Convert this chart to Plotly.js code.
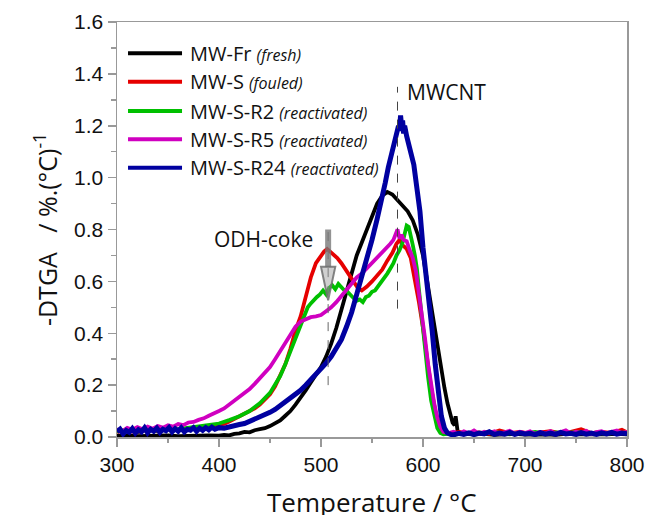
<!DOCTYPE html>
<html>
<head>
<meta charset="utf-8">
<script src="https://cdn.plot.ly/plotly-3.0.1.min.js"></script>
<style>html,body{margin:0;padding:0;background:#fff;}#chart{width:648px;height:515px;}</style>
</head>
<body>
<div id="chart"></div>
<script>
// ---- data (temperature °C, -DTGA %/°C) ----
const seriesNames = ["MW-Fr", "MW-S", "MW-S-R2", "MW-S-R5", "MW-S-R24"];
const seriesNotes = ["(fresh)", "(fouled)", "(reactivated)", "(reactivated)", "(reactivated)"];

const mwFr = [[300,0.004],[310,0.006],[320,0.003],[330,0.005],[340,0.004],[350,0.006],[360,0.003],[370,0.005],[380,0.004],[390,0.006],[400,0.005],[405,0.008],[410,0.006],[415,0.012],[420,0.014],[425,0.02],[430,0.018],[435,0.026],[440,0.03],[445,0.034],[450,0.042],[455,0.052],[460,0.064],[465,0.082],[470,0.1],[475,0.125],[480,0.15],[485,0.18],[490,0.21],[495,0.24],[500,0.27],[505,0.31],[510,0.36],[515,0.42],[520,0.49],[525,0.57],[530,0.64],[535,0.7],[540,0.75],[545,0.8],[550,0.86],[555,0.9],[560,0.93],[565,0.945],[570,0.935],[575,0.915],[580,0.895],[585,0.87],[590,0.835],[595,0.78],[600,0.7],[603,0.625],[606,0.56],[609,0.495],[612,0.415],[615,0.34],[618,0.26],[621,0.19],[624,0.13],[627,0.08],[629,0.055],[631,0.045],[632,0.08],[634,0.02],[640,0.012],[650,0.01],[660,0.012],[670,0.008],[680,0.01],[690,0.012],[700,0.009],[710,0.011],[720,0.01],[730,0.008],[740,0.012],[750,0.01],[760,0.009],[770,0.011],[780,0.01],[790,0.012],[800,0.01]];

const mwS = [[300,0.02],[310,0.025],[320,0.018],[330,0.028],[340,0.022],[350,0.03],[360,0.026],[370,0.034],[380,0.036],[390,0.042],[400,0.048],[405,0.05],[410,0.06],[415,0.07],[420,0.08],[425,0.09],[430,0.1],[435,0.11],[440,0.125],[445,0.145],[450,0.165],[455,0.195],[460,0.235],[465,0.28],[470,0.34],[475,0.41],[480,0.465],[485,0.54],[490,0.615],[495,0.67],[500,0.7],[503,0.715],[506,0.725],[509,0.715],[512,0.705],[516,0.69],[520,0.67],[524,0.645],[528,0.62],[532,0.6],[536,0.575],[540,0.565],[545,0.58],[550,0.6],[555,0.62],[560,0.645],[565,0.68],[570,0.71],[574,0.745],[577,0.76],[580,0.74],[584,0.725],[588,0.69],[592,0.61],[596,0.52],[600,0.42],[604,0.3],[608,0.19],[612,0.1],[616,0.045],[620,0.02],[625,0.012],[635,0.02],[645,0.014],[655,0.018],[665,0.012],[675,0.025],[685,0.015],[695,0.02],[705,0.013],[715,0.018],[725,0.022],[735,0.014],[745,0.02],[755,0.03],[765,0.015],[775,0.02],[785,0.016],[795,0.028],[800,0.018]];

const mwSR2 = [[300,0.022],[310,0.028],[320,0.02],[330,0.03],[340,0.024],[350,0.032],[360,0.03],[370,0.036],[380,0.04],[390,0.046],[400,0.052],[410,0.065],[420,0.08],[430,0.1],[440,0.13],[450,0.17],[455,0.2],[460,0.235],[465,0.28],[470,0.33],[475,0.38],[480,0.44],[484,0.48],[487,0.5],[490,0.515],[493,0.53],[496,0.54],[499,0.55],[502,0.565],[505,0.55],[508,0.575],[511,0.585],[514,0.57],[517,0.59],[520,0.575],[523,0.565],[526,0.56],[529,0.545],[532,0.535],[535,0.525],[538,0.53],[541,0.52],[544,0.54],[547,0.545],[550,0.56],[553,0.565],[556,0.58],[559,0.6],[562,0.61],[565,0.63],[568,0.65],[571,0.67],[574,0.7],[577,0.72],[580,0.75],[582,0.79],[584,0.815],[586,0.81],[588,0.78],[590,0.74],[592,0.7],[594,0.65],[596,0.57],[598,0.49],[600,0.4],[602,0.33],[605,0.23],[608,0.14],[611,0.08],[614,0.035],[617,0.015],[620,0.01],[630,0.015],[640,0.012],[650,0.018],[660,0.013],[670,0.02],[680,0.012],[690,0.016],[700,0.014],[710,0.02],[720,0.012],[730,0.018],[740,0.014],[750,0.02],[760,0.013],[770,0.017],[780,0.012],[790,0.018],[800,0.014]];

const mwSR5 = [[300,0.03],[305,0.022],[310,0.035],[315,0.028],[320,0.038],[325,0.03],[330,0.04],[335,0.032],[340,0.042],[345,0.036],[350,0.045],[355,0.04],[360,0.05],[365,0.046],[370,0.056],[375,0.058],[380,0.066],[385,0.072],[390,0.082],[395,0.09],[400,0.1],[405,0.11],[410,0.125],[415,0.14],[420,0.155],[425,0.17],[430,0.185],[435,0.205],[440,0.225],[445,0.245],[450,0.27],[455,0.3],[460,0.33],[465,0.36],[470,0.39],[475,0.425],[480,0.445],[485,0.455],[490,0.462],[495,0.465],[500,0.47],[505,0.485],[510,0.5],[515,0.52],[520,0.545],[525,0.565],[530,0.59],[535,0.615],[540,0.63],[545,0.65],[550,0.67],[555,0.69],[560,0.71],[565,0.73],[568,0.745],[571,0.76],[573,0.785],[575,0.8],[577,0.765],[579,0.78],[581,0.76],[584,0.755],[587,0.72],[590,0.69],[593,0.64],[596,0.56],[599,0.47],[602,0.38],[605,0.28],[608,0.2],[611,0.13],[614,0.075],[617,0.04],[620,0.02],[625,0.015],[630,0.02],[635,0.012],[640,0.022],[645,0.014],[650,0.025],[655,0.012],[660,0.02],[665,0.015],[670,0.022],[675,0.012],[680,0.018],[685,0.024],[690,0.013],[695,0.02],[700,0.015],[705,0.022],[710,0.012],[715,0.019],[720,0.014],[725,0.023],[730,0.012],[735,0.018],[740,0.026],[745,0.013],[750,0.02],[755,0.015],[760,0.024],[765,0.012],[770,0.019],[775,0.022],[780,0.014],[785,0.02],[790,0.025],[795,0.015],[800,0.02]];

const mwSR24 = [[300,0.02],[303,0.03],[306,0.012],[309,0.025],[312,0.018],[315,0.032],[318,0.015],[321,0.028],[324,0.02],[327,0.035],[330,0.016],[333,0.03],[336,0.022],[339,0.034],[342,0.018],[345,0.03],[348,0.024],[351,0.036],[354,0.02],[357,0.032],[360,0.022],[363,0.035],[366,0.02],[369,0.03],[372,0.026],[375,0.036],[378,0.022],[381,0.034],[384,0.026],[387,0.036],[390,0.028],[393,0.038],[396,0.03],[400,0.036],[405,0.034],[410,0.04],[415,0.042],[420,0.048],[425,0.052],[430,0.06],[435,0.066],[440,0.075],[445,0.084],[450,0.095],[455,0.106],[460,0.12],[465,0.134],[470,0.15],[475,0.165],[480,0.18],[485,0.2],[490,0.22],[495,0.24],[500,0.262],[505,0.285],[510,0.31],[515,0.34],[520,0.375],[525,0.425],[530,0.48],[535,0.55],[540,0.615],[545,0.685],[550,0.76],[555,0.84],[560,0.92],[563,0.98],[566,1.04],[569,1.09],[572,1.13],[574,1.17],[576,1.2],[577,1.18],[578,1.24],[579,1.2],[580,1.22],[581,1.17],[582,1.2],[584,1.16],[586,1.13],[588,1.1],[591,1.05],[594,0.96],[597,0.87],[600,0.73],[603,0.63],[606,0.53],[609,0.41],[612,0.28],[615,0.165],[618,0.08],[621,0.035],[624,0.015],[627,0.01],[630,0.008],[635,0.014],[640,0.01],[645,0.016],[650,0.009],[655,0.015],[660,0.012],[665,0.02],[670,0.01],[675,0.015],[680,0.011],[685,0.018],[690,0.01],[695,0.016],[700,0.012],[705,0.014],[710,0.009],[715,0.017],[720,0.011],[725,0.015],[730,0.01],[735,0.018],[740,0.012],[745,0.014],[750,0.01],[755,0.017],[760,0.011],[765,0.015],[770,0.01],[775,0.016],[780,0.012],[785,0.018],[790,0.011],[795,0.015],[800,0.012]];

// marker positions (°C) for the annotated peaks
const peakODH = 507;
const peakMWCNT = 575;

// axis titles
const xTitle = "Temperature / °C";
const yTitle = "-DTGA&nbsp;&nbsp;&nbsp;/ %.(°C)<sup>-1</sup>";

// ---- styling ----
const colors = ["#000000", "#E60000", "#00C000", "#D000C0", "#0000A0"];
const widths = [3.8, 3.8, 3.8, 3.8, 5];
const allSeries = [mwFr, mwS, mwSR2, mwSR5, mwSR24];

const traces = allSeries.map((s, i) => ({
  type: "scatter",
  mode: "lines",
  x: s.map(p => p[0]),
  y: s.map(p => p[1]),
  name: seriesNames[i] + " " + seriesNotes[i],
  line: {color: colors[i], width: widths[i]},
  showlegend: false,
  hoverinfo: "skip"
}));

// legend drawn in paper coordinates (top-left inside the plot)
const legRowsPaper = [0.9246, 0.8560, 0.7855, 0.7173, 0.6489];
const legLineX = [0.0216, 0.1275];
const legTextX = 0.1392;
const legendShapes = seriesNames.map((n, i) => ({
  type: "line", xref: "paper", yref: "paper",
  x0: legLineX[0], x1: legLineX[1], y0: legRowsPaper[i], y1: legRowsPaper[i],
  line: {color: colors[i], width: 4}
}));
const legendTexts = seriesNames.map((n, i) => ({
  xref: "paper", yref: "paper", x: legTextX, y: legRowsPaper[i],
  xanchor: "left", yanchor: "middle", showarrow: false,
  text: n + " <i><span style='font-size:16px'>" + seriesNotes[i] + "</span></i>",
  font: {family: "Open Sans, sans-serif", size: 20, color: "#111"}
}));

const axisCommon = {
  showgrid: false, zeroline: false,
  showline: true, linecolor: "#999", linewidth: 1.5, mirror: true,
  ticks: "outside", ticklen: 8, tickwidth: 1.5, tickcolor: "#999",
  tickfont: {family: "Liberation Sans, Arial, sans-serif", size: 21, color: "#111"}
};

const layout = {
  width: 648, height: 515,
  margin: {l: 117, r: 21, t: 22, b: 78},
  paper_bgcolor: "#fff", plot_bgcolor: "#fff",
  font: {family: "Open Sans, sans-serif", color: "#111"},
  showlegend: false,
  xaxis: Object.assign({}, axisCommon, {
    range: [300, 800], tick0: 300, dtick: 100,
    minor: {dtick: 50, ticks: "outside", ticklen: 4, tickwidth: 1.5, tickcolor: "#999"}
  }),
  yaxis: Object.assign({}, axisCommon, {
    range: [0, 1.6], tick0: 0, dtick: 0.2, tickformat: ".1f",
    minor: {dtick: 0.1, ticks: "outside", ticklen: 5, tickwidth: 1.5, tickcolor: "#999"},
    title: {text: yTitle, font: {family: "Open Sans, sans-serif", size: 25, color: "#111"}}
  }),
  shapes: [
    {type: "line", xref: "x", yref: "y", x0: peakODH, x1: peakODH, y0: 0.2, y1: 0.8,
     line: {color: "#666", width: 1, dash: "dash"}},
    {type: "line", xref: "x", yref: "y", x0: peakMWCNT, x1: peakMWCNT, y0: 0.495, y1: 1.35,
     line: {color: "#444", width: 1, dash: "dash"}},
    {type: "line", xref: "x", yref: "y", x0: peakODH, x1: peakODH, y0: 0.655, y1: 0.8,
     line: {color: "rgba(120,120,120,0.8)", width: 6}},
    {type: "path", xref: "x", yref: "y",
     path: "M " + (peakODH - 7) + ",0.656 L " + (peakODH + 7) + ",0.656 L " + peakODH + ",0.527 Z",
     fillcolor: "rgba(150,150,150,0.45)", line: {color: "rgba(110,110,110,0.85)", width: 2}}
  ].concat(legendShapes),
  annotations: [
    {x: 494.5, y: 0.763, xref: "x", yref: "y", text: "ODH-coke", showarrow: false,
     xanchor: "right", yanchor: "middle", font: {family: "Open Sans, sans-serif", size: 21, color: "#111"}},
    {x: 582.5, y: 1.33, xref: "x", yref: "y", text: "MWCNT", showarrow: false,
     xanchor: "left", yanchor: "middle", font: {family: "Open Sans, sans-serif", size: 21, color: "#111"}},
    {x: 0.5, y: -0.157, xref: "paper", yref: "paper", text: xTitle, showarrow: false,
     xanchor: "center", yanchor: "middle", font: {family: "Open Sans, sans-serif", size: 26, color: "#111"}}
  ].concat(legendTexts)
};

Plotly.newPlot("chart", traces, layout, {displayModeBar: false, staticPlot: true});
</script>
</body>
</html>
